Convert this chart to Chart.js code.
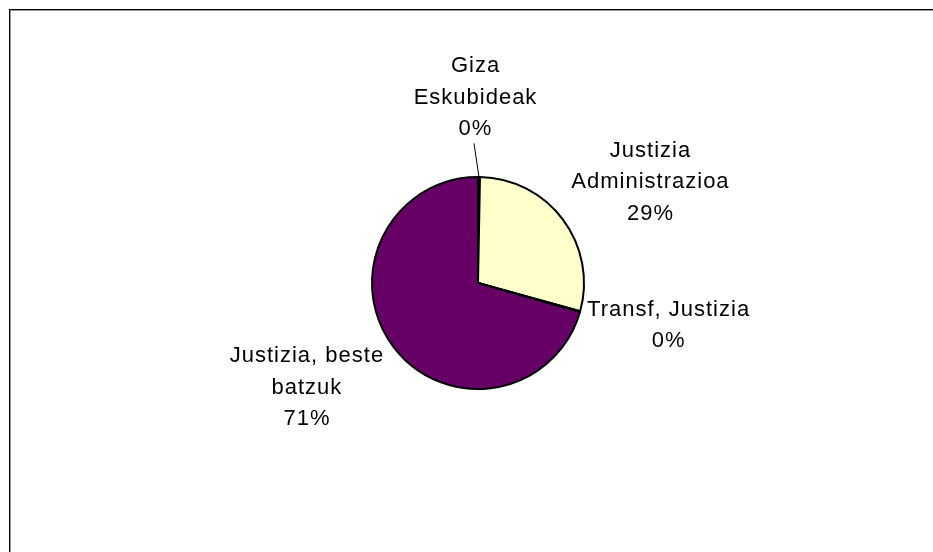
<!DOCTYPE html>
<html>
<head>
<meta charset="utf-8">
<script src="https://cdn.jsdelivr.net/npm/chart.js@4"></script>
<style>
  html, body { margin: 0; padding: 0; background: #fff; overflow: hidden; }
  #wrap { position: relative; width: 933px; height: 552px; }
  #frame { position: absolute; left: 9px; top: 9px; width: 1000px; height: 1000px;
           border: 1px solid #000; box-shadow: inset 1px 1px 0 #999; }
  #pc { position: absolute; left: 0; top: 0; }
</style>
</head>
<body>
<div id="wrap">
  <div id="frame"></div>
  <canvas id="pc" width="933" height="552"></canvas>
</div>
<script>
const categories = ['Giza Eskubideak', 'Justizia Administrazioa', 'Transf, Justizia', 'Justizia, beste batzuk'];
const labelLines = [['Giza', 'Eskubideak'], ['Justizia', 'Administrazioa'], ['Transf, Justizia'], ['Justizia, beste', 'batzuk']];
const values = [0.3, 29.0, 0.1, 70.6];
const colors = ['#993366', '#FFFFCC', '#CCFFFF', '#660066'];

// label placement relative to the slice edge point (first baseline)
const labelOffsets = [[-4, -105], [87, -63], [88, 4], [-87, 15]];

const total = values.reduce((a, b) => a + b, 0);

const labelPlugin = {
  id: 'xlLabels',
  afterDatasetsDraw(chart) {
    const ctx = chart.ctx;
    const arcs = chart.getDatasetMeta(0).data;
    ctx.save();
    ctx.fillStyle = '#000';
    ctx.font = '22px "Liberation Sans", Arial, sans-serif';
    ctx.letterSpacing = '1px';
    ctx.textAlign = 'center';
    ctx.textBaseline = 'alphabetic';
    arcs.forEach((arc, i) => {
      const mid = (arc.startAngle + arc.endAngle) / 2;
      const ex = arc.x + Math.cos(mid) * arc.outerRadius;
      const ey = arc.y + Math.sin(mid) * arc.outerRadius;
      const lx = ex + labelOffsets[i][0];
      const ly = ey + labelOffsets[i][1];
      const lines = labelLines[i].concat([Math.round(values[i] / total * 100) + '%']);
      lines.forEach((t, k) => ctx.fillText(t, lx + 0.5, ly + k * 31.7));
      if (i === 0) {
        ctx.beginPath();
        ctx.strokeStyle = '#000';
        ctx.lineWidth = 1;
        ctx.moveTo(lx - 1, ly + 2 * 31.7 + 8);
        ctx.lineTo(ex, ey);
        ctx.stroke();
      }
    });
    ctx.restore();
  }
};

new Chart(document.getElementById('pc').getContext('2d'), {
  type: 'pie',
  data: {
    labels: categories,
    datasets: [{
      data: values,
      backgroundColor: colors,
      borderColor: '#000',
      borderWidth: 2,
      radius: 106,
      hoverOffset: 0,
      offset: 0,
    }],
  },
  options: {
    responsive: false,
    animation: false,
    layout: { padding: { left: 23, right: 0, top: 14, bottom: 0 } },
    plugins: { legend: { display: false }, tooltip: { enabled: false } },
  },
  plugins: [labelPlugin],
});
</script>
</body>
</html>
